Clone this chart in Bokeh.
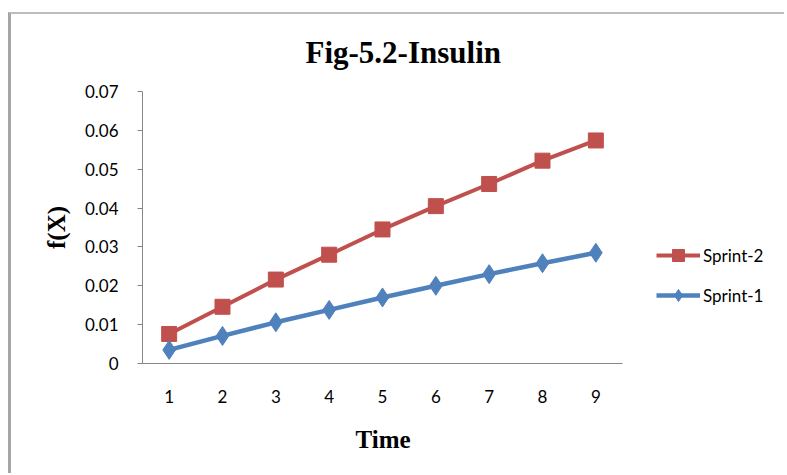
from bokeh.plotting import figure
from bokeh.models import ColumnDataSource, Legend, LegendItem, FixedTicker, Range1d, Title
from bokeh.embed import file_html
from bokeh.resources import INLINE

time = [1, 2, 3, 4, 5, 6, 7, 8, 9]
sprint2 = [0.0076, 0.0146, 0.0216, 0.0280, 0.0345, 0.0405, 0.0462, 0.0522, 0.0574]
sprint1 = [0.0035, 0.0071, 0.0106, 0.0138, 0.0170, 0.0200, 0.0230, 0.0258, 0.0285]
y_ticks = [0, 0.01, 0.02, 0.03, 0.04, 0.05, 0.06, 0.07]
y_labels = {0: "0", 0.01: "0.01", 0.02: "0.02", 0.03: "0.03", 0.04: "0.04",
            0.05: "0.05", 0.06: "0.06", 0.07: "0.07"}

RED = "#C0504D"
BLUE = "#4F81BD"
TICK_FONT = "Lato"
OFF_X = 11
OFF_Y = 14

# plot frame runs wide so the legend (right of the axes) is not clipped
x_lo = time[0] - 0.5
x_hi = time[-1] + 0.5
x_view_end = x_lo + (787 - 142) / 53.333

p = figure(width=787 - OFF_X, height=475 - OFF_Y, output_backend="svg", toolbar_location=None,
           x_range=Range1d(x_lo, x_view_end), y_range=Range1d(0, 0.07),
           min_border_left=142 - OFF_X, min_border_right=0, min_border_top=91 - OFF_Y,
           min_border_bottom=112)
p.styles = {"margin-left": "8px", "margin-top": "12px",
            "border-top": "2px solid #bdbdbd", "border-left": "3px solid #a6a6a6"}
p.outline_line_color = None
p.grid.grid_line_color = None
p.background_fill_color = "white"
p.border_fill_color = "white"

p.title.text = "Fig-5.2-Insulin"
p.title.align = "left"
p.title.offset = 163
p.title.text_font = "Liberation Serif"
p.title.text_font_style = "bold"
p.title.text_font_size = "31px"
p.title.text_color = "black"
p.title.vertical_align = "top"
p.title.standoff = 39

src2 = ColumnDataSource(dict(x=time, y=sprint2))
src1 = ColumnDataSource(dict(x=time, y=sprint1))

l2 = p.line("x", "y", source=src2, line_color=RED, line_width=4)
m2 = p.scatter("x", "y", source=src2, marker="square", size=15, fill_color=RED, line_color=RED)
l1 = p.line("x", "y", source=src1, line_color=BLUE, line_width=4.5)
m1 = p.scatter("x", "y", source=src1, marker="diamond", size=19, fill_color=BLUE, line_color=BLUE)

# axes
p.xaxis.ticker = FixedTicker(ticks=time)
p.xaxis.bounds = (x_lo, x_hi)
p.xaxis.major_tick_line_color = None
p.xaxis.minor_tick_line_color = None
p.xaxis.axis_line_color = "#868686"
p.xaxis.major_label_text_font = TICK_FONT
p.xaxis.major_label_text_font_size = "17px"
p.xaxis.major_label_text_color = "black"
p.xaxis.major_label_standoff = 20

xtitle = Title(text="Time", align="left", offset=213, text_font="Liberation Serif",
               text_font_style="bold", text_font_size="25px", text_color="black", standoff=36)
p.add_layout(xtitle, "below")

p.yaxis.ticker = FixedTicker(ticks=y_ticks)
p.yaxis.major_label_overrides = y_labels
p.yaxis.minor_tick_line_color = None
p.yaxis.major_tick_in = 0
p.yaxis.major_tick_out = 5
p.yaxis.major_tick_line_color = "#868686"
p.yaxis.axis_line_color = "#868686"
p.yaxis.major_label_text_font = TICK_FONT
p.yaxis.major_label_text_font_size = "17px"
p.yaxis.major_label_text_color = "black"
p.yaxis.major_label_standoff = 19
p.yaxis.axis_label = "f(X)"
p.yaxis.axis_label_text_font = "Liberation Serif"
p.yaxis.axis_label_text_font_style = "bold"
p.yaxis.axis_label_text_font_size = "25px"
p.yaxis.axis_label_text_color = "black"
p.yaxis.axis_label_standoff = 12

legend = Legend(items=[LegendItem(label="Sprint-2", renderers=[l2, m2]),
                       LegendItem(label="Sprint-1", renderers=[l1, m1])],
                location=(514, 53), border_line_color=None, background_fill_alpha=0,
                label_text_font=TICK_FONT, label_text_font_size="17px",
                label_text_color="black",
                glyph_width=44, glyph_height=30, label_height=30, spacing=10,
                label_standoff=3, padding=0, margin=0)
p.add_layout(legend, "center")

open("out.html", "w").write(file_html(p, INLINE))
